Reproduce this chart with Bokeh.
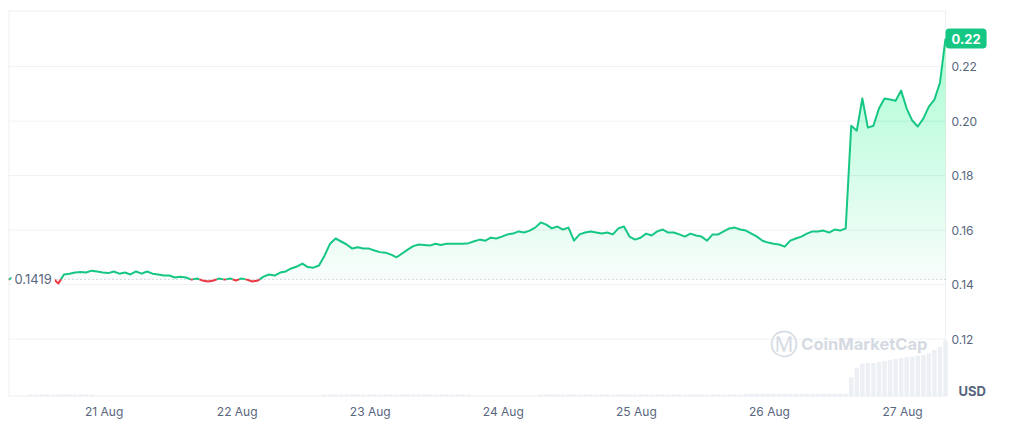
import numpy as np
import pandas as pd
from bokeh.plotting import figure
from bokeh.models import (Range1d, FixedTicker, DatetimeTickFormatter,
                          PrintfTickFormatter, Label)
from bokeh.embed import file_html
from bokeh.resources import INLINE

# ---------------- data ----------------
start_time = "2024-08-20 06:45"          # hourly samples
prices = [
    0.1418, 0.1429, 0.1437, 0.1433, 0.1440, 0.1433, 0.1426, 0.1429, 0.1422, 0.1404,
    0.1437, 0.1440, 0.1444, 0.1446, 0.1444, 0.1451, 0.1448, 0.1444, 0.1442, 0.1448,
    0.1440, 0.1444, 0.1437, 0.1448, 0.1440, 0.1448, 0.1440, 0.1437, 0.1433, 0.1433,
    0.1426, 0.1429, 0.1426, 0.1418, 0.1422, 0.1415, 0.1411, 0.1415, 0.1422, 0.1418,
    0.1422, 0.1415, 0.1422, 0.1418, 0.1411, 0.1415, 0.1429, 0.1437, 0.1433, 0.1444,
    0.1448, 0.1459, 0.1466, 0.1477, 0.1464, 0.1462, 0.1470, 0.1506, 0.1550, 0.1569,
    0.1558, 0.1547, 0.1532, 0.1537, 0.1532, 0.1532, 0.1525, 0.1519, 0.1517, 0.1510,
    0.1500, 0.1514, 0.1528, 0.1541, 0.1547, 0.1545, 0.1543, 0.1550, 0.1545, 0.1550,
    0.1550, 0.1550, 0.1550, 0.1552, 0.1559, 0.1565, 0.1561, 0.1572, 0.1569, 0.1576,
    0.1584, 0.1587, 0.1595, 0.1591, 0.1598, 0.1609, 0.1628, 0.1620, 0.1606, 0.1613,
    0.1602, 0.1609, 0.1561, 0.1584, 0.1591, 0.1595, 0.1591, 0.1587, 0.1591, 0.1584,
    0.1606, 0.1613, 0.1576, 0.1565, 0.1572, 0.1587, 0.1580, 0.1595, 0.1602, 0.1591,
    0.1591, 0.1584, 0.1576, 0.1587, 0.1580, 0.1576, 0.1561, 0.1584, 0.1584, 0.1595,
    0.1606, 0.1609, 0.1602, 0.1598, 0.1587, 0.1576, 0.1561, 0.1554, 0.1550, 0.1547,
    0.1539, 0.1561, 0.1569, 0.1576, 0.1587, 0.1595, 0.1595, 0.1598, 0.1591, 0.1602,
    0.1598, 0.1606, 0.1983, 0.1965, 0.2083, 0.1976, 0.1983, 0.2046, 0.2083, 0.2079,
    0.2075, 0.2112, 0.2046, 0.2002, 0.1980, 0.2009, 0.2053, 0.2079, 0.2141, 0.2303,
]
volumes = [  # million USD per hour (relative)
    0.3, 0.3, 0.3, 0.3, 2.5, 2.5, 2.5, 2.5, 2.5, 2.5,
    2.5, 2.5, 2.5, 2.5, 2.5, 2.5, 0.4, 0.4, 0.4, 0.4,
    0.4, 0.4, 0.4, 0.4, 0.4, 0.4, 0.4, 0.4, 0.4, 0.4,
    0.4, 0.4, 0.4, 0.4, 0.4, 0.4, 0.4, 0.4, 0.4, 0.4,
    0.4, 0.4, 0.4, 0.4, 0.4, 0.4, 0.4, 0.4, 0.4, 0.4,
    0.4, 0.4, 0.4, 0.4, 0.4, 0.4, 0.4, 2.5, 2.5, 2.5,
    2.5, 2.5, 2.5, 2.5, 2.5, 2.5, 2.5, 2.5, 2.5, 2.5,
    2.5, 2.5, 2.5, 2.5, 2.5, 2.5, 2.5, 2.5, 2.5, 2.5,
    2.5, 2.5, 2.5, 2.5, 0.4, 0.4, 0.4, 0.4, 0.4, 0.4,
    0.4, 0.4, 0.4, 0.4, 0.4, 0.4, 2.5, 2.5, 2.5, 2.5,
    2.5, 2.5, 2.5, 2.5, 2.5, 2.5, 2.5, 2.5, 2.5, 2.5,
    2.5, 2.5, 2.5, 2.5, 2.5, 2.5, 2.5, 2.5, 2.5, 2.5,
    2.5, 2.5, 2.5, 2.5, 2.5, 2.5, 2.5, 2.5, 2.5, 2.5,
    2.5, 2.5, 2.5, 3.5, 3.5, 3.5, 3.5, 3.5, 3.5, 3.5,
    3.5, 3.5, 3.5, 3.5, 3.5, 3.5, 3.5, 3.5, 3.5, 3.5,
    3.5, 3.5, 24, 36, 41, 42, 42, 43, 44, 46,
    47, 48, 49, 50, 51, 52, 54, 58, 62, 70,
]
baseline = 0.1419
baseline_text = "0.1419"
last_price_text = "0.22"
y_ticks = [0.12, 0.14, 0.16, 0.18, 0.20, 0.22]
x_tick_days = ["2024-08-21", "2024-08-22", "2024-08-23", "2024-08-24",
               "2024-08-25", "2024-08-26", "2024-08-27"]

# ---------------- styling constants ----------------
GREEN = "#16c784"
RED = "#ea3943"
GREY = "#58667e"
GRID = "#eff2f5"
BORDER = "#eceff3"
FONT = "Inter"
W, H = 1011, 422
FRAME_L, DATA_R = 8, 945      # pixel edges of the price area

times = pd.date_range(start_time, periods=len(prices), freq="h")
t_ms = times.values.astype("datetime64[ms]").astype("int64").astype(float)
y = np.array(prices)
vol = np.array(volumes)
x_lo, x_hi = t_ms[0], t_ms[-1]
ms_per_px = (x_hi - x_lo) / (DATA_R - FRAME_L)
y_lo, y_hi = 0.0989, 0.2406

# the frame reaches the right edge so that in-frame labels can sit beside the data
p = figure(width=W, height=H, x_axis_type="datetime", y_axis_location="right",
           x_range=Range1d(x_lo, x_hi + (W - DATA_R) * ms_per_px),
           y_range=Range1d(y_lo, y_hi),
           output_backend="svg", toolbar_location=None,
           min_border_left=FRAME_L, min_border_top=10, min_border_right=0,
           min_border_bottom=26,
           background_fill_color="white", border_fill_color="white",
           outline_line_color=None)

# grid lines and frame box limited to the price area
n = len(y_ticks)
p.segment(x0=[x_lo] * n, x1=[x_hi] * n, y0=y_ticks, y1=y_ticks,
          line_color=GRID, line_width=1)
p.segment(x0=[x_lo, x_lo, x_lo], x1=[x_hi, x_hi, x_lo], y0=[y_lo, y_hi, y_lo],
          y1=[y_lo, y_hi, y_hi], line_color=BORDER, line_width=2)
p.segment(x0=[x_hi], x1=[x_hi], y0=[y_lo], y1=[y_hi], line_color=BORDER, line_width=1)

# volume
p.extra_y_ranges = {"vol": Range1d(0, vol.max() * 386 / 56)}
p.vbar(x=t_ms, top=vol, width=0.8 * 3600 * 1000, y_range_name="vol",
       fill_color="#eceff4", line_color=None)

# gradient fill above baseline (stacked translucent layers)
top_v = y.max()
n_layers = 40
p.varea(x=t_ms, y1=np.full_like(y, baseline), y2=np.maximum(y, baseline),
        fill_color=GREEN, fill_alpha=0.03)
for k in range(1, n_layers):
    lvl = baseline + (top_v - baseline) * k / n_layers
    p.varea(x=t_ms, y1=np.full_like(y, lvl), y2=np.maximum(y, lvl),
            fill_color=GREEN, fill_alpha=0.0068)
# red fill below baseline
p.varea(x=t_ms, y1=np.minimum(y, baseline), y2=np.full_like(y, baseline),
        fill_color=RED, fill_alpha=0.08)

# baseline dotted
p.segment(x0=[x_lo], x1=[x_hi], y0=[baseline], y1=[baseline],
          line_color="#a9b0bf", line_dash="1 3", line_width=1)

# split line into green / red parts at baseline crossings
g_xs, g_ys, r_xs, r_ys = [], [], [], []
cx, cy = [t_ms[0]], [y[0]]
below = y[0] < baseline
for i in range(1, len(y)):
    b = y[i] < baseline
    if b != below:
        f = (baseline - y[i - 1]) / (y[i] - y[i - 1])
        xc = t_ms[i - 1] + f * (t_ms[i] - t_ms[i - 1])
        cx.append(xc); cy.append(baseline)
        (r_xs if below else g_xs).append(cx); (r_ys if below else g_ys).append(cy)
        cx, cy = [xc], [baseline]
        below = b
    cx.append(t_ms[i]); cy.append(y[i])
(r_xs if below else g_xs).append(cx); (r_ys if below else g_ys).append(cy)
p.multi_line(xs=g_xs, ys=g_ys, line_color=GREEN, line_width=2, line_join="round")
p.multi_line(xs=r_xs, ys=r_ys, line_color=RED, line_width=2, line_join="round")

# axes
tick_ms = [pd.Timestamp(d).value // 10**6 for d in x_tick_days]
p.xaxis.ticker = FixedTicker(ticks=tick_ms)
fmt = "%d %b"
p.xaxis.formatter = DatetimeTickFormatter(milliseconds=fmt, seconds=fmt, minsec=fmt,
                                          minutes=fmt, hourmin=fmt, hours=fmt,
                                          days=fmt, months=fmt, years=fmt)
p.yaxis.ticker = FixedTicker(ticks=y_ticks)
p.yaxis.formatter = PrintfTickFormatter(format="%.2f")
for ax in (p.xaxis[0], p.yaxis[0]):
    ax.axis_line_color = None
    ax.major_tick_line_color = None
    ax.minor_tick_line_color = None
    ax.major_tick_out = 0
    ax.major_tick_in = 0
    ax.minor_tick_out = 0
    ax.minor_tick_in = 0
    ax.major_label_text_color = GREY
    ax.major_label_text_font_size = "12px"
    ax.major_label_text_font = FONT
p.xaxis.major_label_standoff = 7
# right axis labels pulled back beside the price area
p.yaxis.major_label_standoff = -(W - DATA_R) + 6
p.xgrid.visible = False
p.ygrid.visible = False

# labels
p.add_layout(Label(x=x_lo, y=baseline, text=baseline_text, x_offset=3,
                   text_align="left", text_baseline="middle", text_font_size="13px",
                   text_color=GREY, text_font=FONT, background_fill_color="white",
                   background_fill_alpha=1.0, padding=3))
p.add_layout(Label(x=x_hi, y=y[-1], text=last_price_text, x_offset=0,
                   text_align="left", text_baseline="middle", text_font_size="13px",
                   text_font_style="bold", text_color="white", text_font=FONT,
                   background_fill_color=GREEN, background_fill_alpha=1.0,
                   padding=(6, 5), border_radius=4))
p.add_layout(Label(x=x_hi, y=0.1009, text="USD", x_offset=13,
                   text_align="left", text_baseline="middle", text_font_size="13px",
                   text_font_style="bold", text_color=GREY, text_font=FONT))
# watermark
p.add_layout(Label(x=x_hi, y=0.11817, text="CoinMarketCap", x_offset=-18,
                   text_align="right", text_baseline="middle", text_font_size="16.5px",
                   text_font_style="bold", text_color="#d5dae2", text_font=FONT))
p.add_layout(Label(x=x_hi, y=0.11817, text="\u24c2", x_offset=-162,
                   text_align="center", text_baseline="middle", text_font_size="28px",
                   text_color="#d5dae2", text_font="DejaVu Sans"))

open("out.html", "w").write(file_html(p, INLINE))
